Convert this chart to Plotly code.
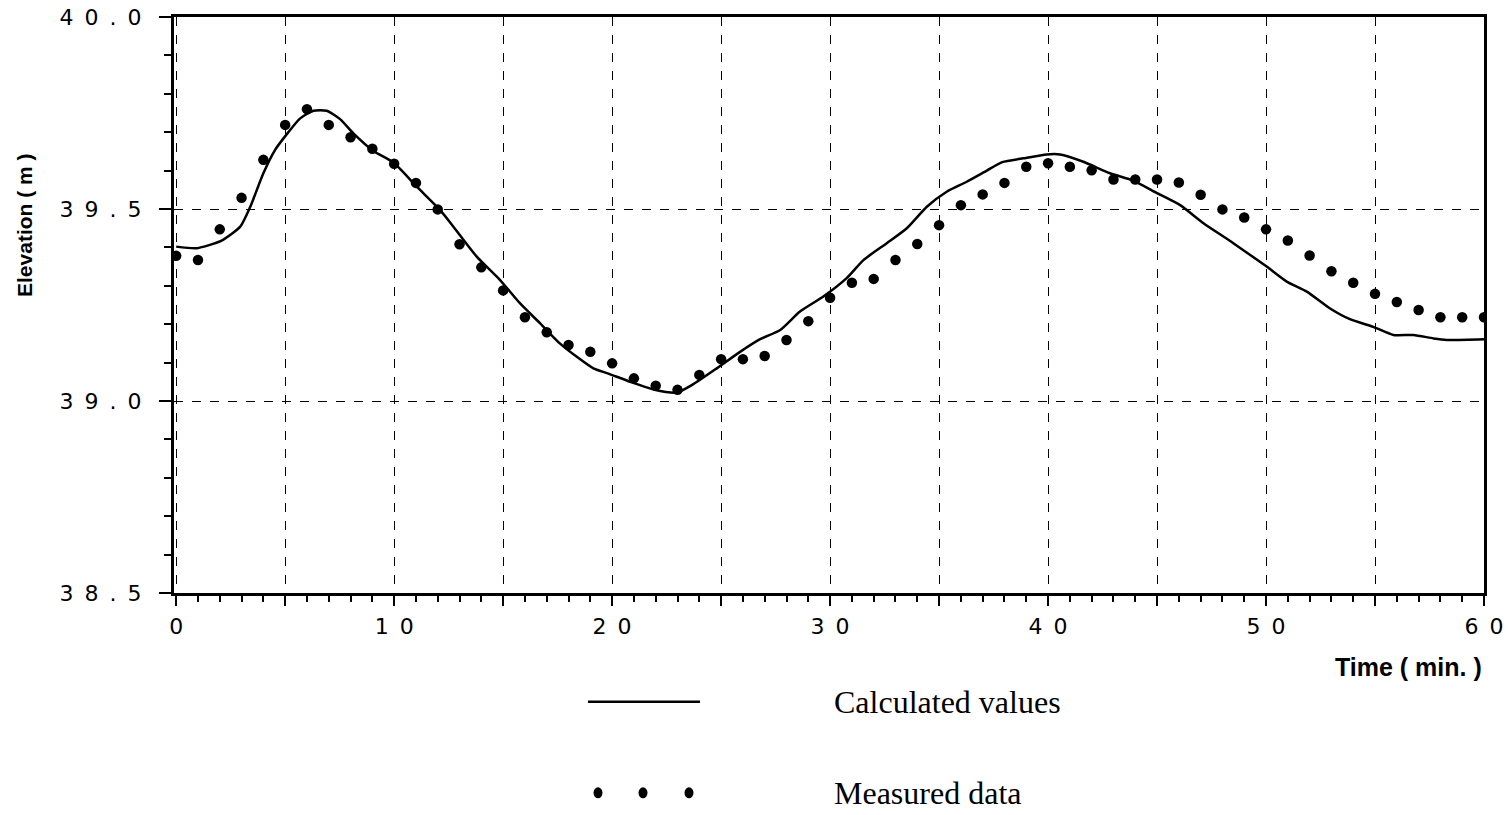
import plotly.graph_objects as go

# Measured data (one point per minute)
meas_t = list(range(0, 61))
meas_y = [39.378, 39.367, 39.447, 39.529, 39.628, 39.719, 39.760, 39.719, 39.687, 39.657,
          39.618, 39.568, 39.499, 39.408, 39.348, 39.288, 39.218, 39.179, 39.146, 39.128,
          39.098, 39.059, 39.040, 39.029, 39.068, 39.109, 39.109, 39.117, 39.159, 39.208,
          39.269, 39.308, 39.318, 39.367, 39.409, 39.458, 39.510, 39.538, 39.568, 39.610,
          39.619, 39.610, 39.601, 39.577, 39.577, 39.577, 39.569, 39.537, 39.499, 39.478,
          39.447, 39.418, 39.379, 39.338, 39.308, 39.279, 39.258, 39.237, 39.218, 39.218,
          39.218]

# Calculated values
calc_t = [0.0, 0.95, 2.06, 2.94, 3.4, 4.0, 4.54, 5.05, 5.69, 6.3, 6.91, 7.52, 8.13, 9.05,
          9.97, 11.04, 12.11, 12.72, 13.79, 14.86, 15.78, 16.7, 17.6, 18.38, 19.14, 19.8,
          20.83, 21.9, 22.97, 23.73, 24.8, 25.87, 26.79, 27.71, 28.62, 29.69, 30.76, 31.53,
          32.6, 33.52, 34.44, 35.35, 36.27, 37.19, 37.9, 38.87, 39.94, 40.55, 41.62, 42.84,
          43.91, 44.98, 46.06, 47.13, 48.5, 50.03, 50.95, 51.87, 52.94, 53.85, 54.92, 55.84,
          56.76, 57.68, 58.29, 60.0]
calc_y = [39.402, 39.398, 39.417, 39.454, 39.506, 39.593, 39.654, 39.693, 39.736, 39.756,
          39.756, 39.734, 39.697, 39.651, 39.621, 39.558, 39.497, 39.454, 39.376, 39.315,
          39.254, 39.202, 39.150, 39.115, 39.085, 39.072, 39.050, 39.030, 39.022, 39.044,
          39.085, 39.128, 39.161, 39.185, 39.233, 39.272, 39.320, 39.367, 39.411, 39.450,
          39.506, 39.545, 39.571, 39.600, 39.622, 39.632, 39.642, 39.642, 39.623, 39.593,
          39.574, 39.542, 39.510, 39.463, 39.411, 39.350, 39.311, 39.285, 39.241, 39.213,
          39.193, 39.172, 39.172, 39.163, 39.159, 39.161]

S = "\u2002"
x_tickvals = [0, 5, 10, 15, 20, 25, 30, 35, 40, 45, 50, 55, 60]
x_ticktext = ["0", "", "1" + S + "0", "", "2" + S + "0", "", "3" + S + "0", "", "4" + S + "0", "",
              "5" + S + "0", "", "6" + S + "0"]
y_tickvals = [38.5, 39.0, 39.5, 40.0]
y_ticktext = [S.join(list(t)) for t in ["38.5", "39.0", "39.5", "40.0"]]

fig = go.Figure()
fig.add_trace(go.Scatter(x=calc_t, y=calc_y, mode="lines",
                         line=dict(color="black", width=2.5, shape="spline", smoothing=0.6),
                         showlegend=False))
fig.add_trace(go.Scatter(x=meas_t, y=meas_y, mode="markers",
                         marker=dict(color="black", size=10.5, line=dict(width=0)),
                         showlegend=False))

tickfont = dict(family="DejaVu Sans", size=22, color="black")
fig.update_xaxes(range=[-0.1, 60], tickvals=x_tickvals, ticktext=x_ticktext,
                 showgrid=True, gridcolor="black", gridwidth=1.3, griddash="dash",
                 showline=True, linecolor="black", linewidth=3, mirror=True,
                 ticks="outside", ticklen=10, tickwidth=2, tickcolor="black",
                 minor=dict(dtick=1, ticks="outside", ticklen=6, tickwidth=1.5, tickcolor="black", showgrid=False),
                 tickfont=tickfont, zeroline=False, ticklabelstandoff=2)
fig.update_yaxes(range=[38.5, 40.0], tickvals=y_tickvals, ticktext=y_ticktext,
                 showgrid=True, gridcolor="black", gridwidth=1.3, griddash="dash",
                 showline=True, linecolor="black", linewidth=3, mirror=True,
                 ticks="outside", ticklen=12, tickwidth=2, tickcolor="black",
                 minor=dict(dtick=0.1, ticks="outside", ticklen=7, tickwidth=1.5, tickcolor="black", showgrid=False),
                 tickfont=tickfont, zeroline=False, ticklabelstandoff=13)

title_font = dict(family="Liberation Sans", size=21, color="black")
time_font = dict(family="Liberation Sans", size=25, color="black")
serif = dict(family="Liberation Serif", size=32, color="black")
annotations = [
    dict(text="<b>Elevation ( m )</b>", x=-0.1137, y=0.639, xref="paper", yref="paper",
         textangle=-90, showarrow=False, font=title_font, xanchor="center", yanchor="middle"),
    dict(text="<b>Time ( min. )</b>", x=1.0, y=-0.128, xref="paper", yref="paper",
         showarrow=False, font=time_font, xanchor="right", yanchor="middle"),
    dict(text="Calculated values", x=0.5023, y=-0.189, xref="paper", yref="paper",
         showarrow=False, font=serif, xanchor="left", yanchor="middle"),
    dict(text="Measured data", x=0.5023, y=-0.347, xref="paper", yref="paper",
         showarrow=False, font=serif, xanchor="left", yanchor="middle"),
]

shapes = [dict(type="line", xref="paper", yref="paper", x0=0.316, x1=0.4015, y0=-0.189, y1=-0.189,
               line=dict(color="black", width=2.5))]
for px in [598, 643, 689]:
    xp = (px - 174) / 1310
    shapes.append(dict(type="circle", xref="paper", yref="paper",
                       x0=xp - 4.5 / 1310, x1=xp + 4.5 / 1310, y0=-0.347 - 5.5 / 576, y1=-0.347 + 5.5 / 576,
                       fillcolor="black", line=dict(color="black", width=0)))

fig.update_layout(width=1508, height=815,
                  margin=dict(l=174, r=24, t=17, b=222, autoexpand=False),
                  paper_bgcolor="white", plot_bgcolor="white",
                  annotations=annotations, shapes=shapes, showlegend=False)

fig.write_html("out.html")
